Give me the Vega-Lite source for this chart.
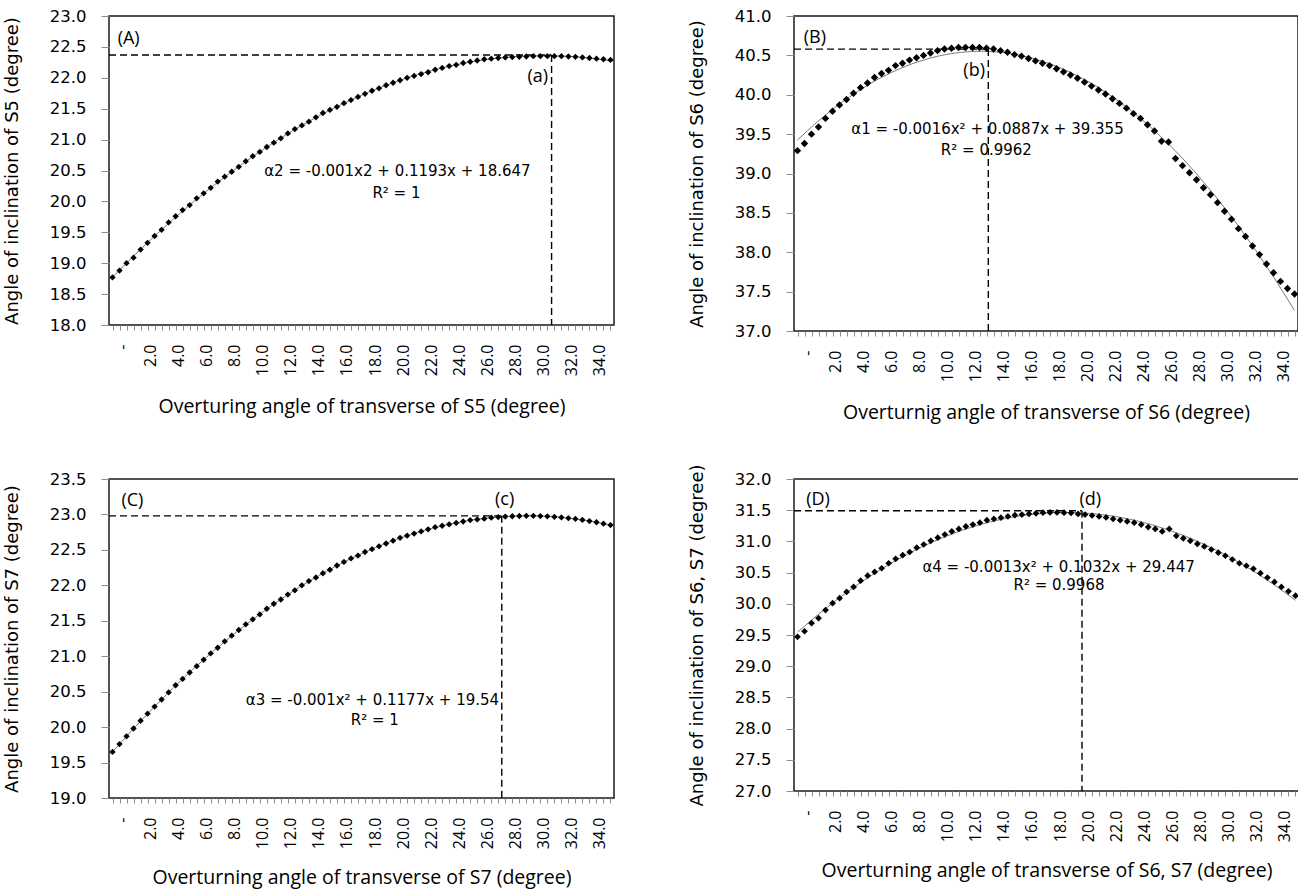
{
  "$schema": "https://vega.github.io/schema/vega-lite/v6.json",
  "background": "white",
  "padding": {"left": 2, "top": 7, "right": 0, "bottom": 8},
  "spacing": 40,
  "datasets": {
    "A": [
      {"x":0,"y":18.77},{"x":0.5,"y":18.88},{"x":1,"y":19.00},{"x":1.5,"y":19.09},{"x":2,"y":19.22},{"x":2.5,"y":19.33},{"x":3,"y":19.44},{"x":3.5,"y":19.54},{"x":4,"y":19.66},{"x":4.5,"y":19.76},{"x":5,"y":19.86},{"x":5.5,"y":19.94},{"x":6,"y":20.05},{"x":6.5,"y":20.13},{"x":7,"y":20.22},{"x":7.5,"y":20.32},{"x":8,"y":20.40},{"x":8.5,"y":20.48},{"x":9,"y":20.56},{"x":9.5,"y":20.65},{"x":10,"y":20.73},{"x":10.5,"y":20.80},{"x":11,"y":20.88},{"x":11.5,"y":20.95},{"x":12,"y":21.02},{"x":12.5,"y":21.10},{"x":13,"y":21.17},{"x":13.5,"y":21.23},{"x":14,"y":21.29},{"x":14.5,"y":21.36},{"x":15,"y":21.43},{"x":15.5,"y":21.48},{"x":16,"y":21.53},{"x":16.5,"y":21.59},{"x":17,"y":21.64},{"x":17.5,"y":21.69},{"x":18,"y":21.74},{"x":18.5,"y":21.79},{"x":19,"y":21.83},{"x":19.5,"y":21.88},{"x":20,"y":21.92},{"x":20.5,"y":21.96},{"x":21,"y":22.00},{"x":21.5,"y":22.03},{"x":22,"y":22.06},{"x":22.5,"y":22.09},{"x":23,"y":22.13},{"x":23.5,"y":22.16},{"x":24,"y":22.19},{"x":24.5,"y":22.21},{"x":25,"y":22.24},{"x":25.5,"y":22.26},{"x":26,"y":22.28},{"x":26.5,"y":22.30},{"x":27,"y":22.31},{"x":27.5,"y":22.32},{"x":28,"y":22.33},{"x":28.5,"y":22.335},{"x":29,"y":22.34},{"x":29.5,"y":22.345},{"x":30,"y":22.35},{"x":30.5,"y":22.35},{"x":31,"y":22.35},{"x":31.5,"y":22.35},{"x":32,"y":22.35},{"x":32.5,"y":22.345},{"x":33,"y":22.34},{"x":33.5,"y":22.33},{"x":34,"y":22.32},{"x":34.5,"y":22.31},{"x":35,"y":22.30},{"x":35.5,"y":22.29}
    ],
    "B": [
      {"x":0,"y":39.29},{"x":0.5,"y":39.38},{"x":1,"y":39.50},{"x":1.5,"y":39.59},{"x":2,"y":39.70},{"x":2.5,"y":39.79},{"x":3,"y":39.87},{"x":3.5,"y":39.94},{"x":4,"y":40.02},{"x":4.5,"y":40.09},{"x":5,"y":40.15},{"x":5.5,"y":40.22},{"x":6,"y":40.27},{"x":6.5,"y":40.31},{"x":7,"y":40.37},{"x":7.5,"y":40.40},{"x":8,"y":40.44},{"x":8.5,"y":40.47},{"x":9,"y":40.50},{"x":9.5,"y":40.53},{"x":10,"y":40.56},{"x":10.5,"y":40.58},{"x":11,"y":40.59},{"x":11.5,"y":40.60},{"x":12,"y":40.60},{"x":12.5,"y":40.60},{"x":13,"y":40.60},{"x":13.5,"y":40.59},{"x":14,"y":40.58},{"x":14.5,"y":40.56},{"x":15,"y":40.54},{"x":15.5,"y":40.51},{"x":16,"y":40.49},{"x":16.5,"y":40.46},{"x":17,"y":40.43},{"x":17.5,"y":40.40},{"x":18,"y":40.37},{"x":18.5,"y":40.33},{"x":19,"y":40.29},{"x":19.5,"y":40.25},{"x":20,"y":40.21},{"x":20.5,"y":40.16},{"x":21,"y":40.11},{"x":21.5,"y":40.06},{"x":22,"y":40.01},{"x":22.5,"y":39.95},{"x":23,"y":39.89},{"x":23.5,"y":39.83},{"x":24,"y":39.76},{"x":24.5,"y":39.70},{"x":25,"y":39.62},{"x":25.5,"y":39.54},{"x":26,"y":39.41},{"x":26.5,"y":39.40},{"x":27,"y":39.19},{"x":27.5,"y":39.10},{"x":28,"y":39.01},{"x":28.5,"y":38.92},{"x":29,"y":38.82},{"x":29.5,"y":38.73},{"x":30,"y":38.63},{"x":30.5,"y":38.52},{"x":31,"y":38.42},{"x":31.5,"y":38.30},{"x":32,"y":38.20},{"x":32.5,"y":38.08},{"x":33,"y":37.97},{"x":33.5,"y":37.85},{"x":34,"y":37.74},{"x":34.5,"y":37.63},{"x":35,"y":37.54},{"x":35.5,"y":37.47}
    ],
    "C": [
      {"x":0,"y":19.65},{"x":0.5,"y":19.76},{"x":1,"y":19.87},{"x":1.5,"y":19.98},{"x":2,"y":20.09},{"x":2.5,"y":20.19},{"x":3,"y":20.29},{"x":3.5,"y":20.39},{"x":4,"y":20.49},{"x":4.5,"y":20.59},{"x":5,"y":20.68},{"x":5.5,"y":20.77},{"x":6,"y":20.86},{"x":6.5,"y":20.95},{"x":7,"y":21.04},{"x":7.5,"y":21.12},{"x":8,"y":21.21},{"x":8.5,"y":21.29},{"x":9,"y":21.37},{"x":9.5,"y":21.45},{"x":10,"y":21.52},{"x":10.5,"y":21.59},{"x":11,"y":21.67},{"x":11.5,"y":21.74},{"x":12,"y":21.80},{"x":12.5,"y":21.87},{"x":13,"y":21.93},{"x":13.5,"y":22.00},{"x":14,"y":22.06},{"x":14.5,"y":22.11},{"x":15,"y":22.17},{"x":15.5,"y":22.22},{"x":16,"y":22.28},{"x":16.5,"y":22.33},{"x":17,"y":22.38},{"x":17.5,"y":22.42},{"x":18,"y":22.47},{"x":18.5,"y":22.51},{"x":19,"y":22.55},{"x":19.5,"y":22.59},{"x":20,"y":22.63},{"x":20.5,"y":22.67},{"x":21,"y":22.70},{"x":21.5,"y":22.73},{"x":22,"y":22.76},{"x":22.5,"y":22.79},{"x":23,"y":22.82},{"x":23.5,"y":22.84},{"x":24,"y":22.86},{"x":24.5,"y":22.88},{"x":25,"y":22.90},{"x":25.5,"y":22.92},{"x":26,"y":22.93},{"x":26.5,"y":22.94},{"x":27,"y":22.955},{"x":27.5,"y":22.963},{"x":28,"y":22.97},{"x":28.5,"y":22.975},{"x":29,"y":22.978},{"x":29.5,"y":22.98},{"x":30,"y":22.98},{"x":30.5,"y":22.977},{"x":31,"y":22.973},{"x":31.5,"y":22.966},{"x":32,"y":22.958},{"x":32.5,"y":22.948},{"x":33,"y":22.937},{"x":33.5,"y":22.923},{"x":34,"y":22.907},{"x":34.5,"y":22.89},{"x":35,"y":22.87},{"x":35.5,"y":22.85}
    ],
    "D": [
      {"x":0,"y":29.47},{"x":0.5,"y":29.56},{"x":1,"y":29.69},{"x":1.5,"y":29.77},{"x":2,"y":29.90},{"x":2.5,"y":30.01},{"x":3,"y":30.09},{"x":3.5,"y":30.19},{"x":4,"y":30.27},{"x":4.5,"y":30.37},{"x":5,"y":30.45},{"x":5.5,"y":30.51},{"x":6,"y":30.57},{"x":6.5,"y":30.65},{"x":7,"y":30.72},{"x":7.5,"y":30.78},{"x":8,"y":30.83},{"x":8.5,"y":30.90},{"x":9,"y":30.95},{"x":9.5,"y":31.01},{"x":10,"y":31.06},{"x":10.5,"y":31.11},{"x":11,"y":31.16},{"x":11.5,"y":31.20},{"x":12,"y":31.24},{"x":12.5,"y":31.27},{"x":13,"y":31.30},{"x":13.5,"y":31.34},{"x":14,"y":31.36},{"x":14.5,"y":31.38},{"x":15,"y":31.40},{"x":15.5,"y":31.42},{"x":16,"y":31.43},{"x":16.5,"y":31.44},{"x":17,"y":31.45},{"x":17.5,"y":31.46},{"x":18,"y":31.465},{"x":18.5,"y":31.465},{"x":19,"y":31.46},{"x":19.5,"y":31.455},{"x":20,"y":31.44},{"x":20.5,"y":31.43},{"x":21,"y":31.415},{"x":21.5,"y":31.40},{"x":22,"y":31.385},{"x":22.5,"y":31.36},{"x":23,"y":31.34},{"x":23.5,"y":31.32},{"x":24,"y":31.30},{"x":24.5,"y":31.27},{"x":25,"y":31.23},{"x":25.5,"y":31.20},{"x":26,"y":31.16},{"x":26.5,"y":31.20},{"x":27,"y":31.09},{"x":27.5,"y":31.05},{"x":28,"y":31.01},{"x":28.5,"y":30.96},{"x":29,"y":30.92},{"x":29.5,"y":30.87},{"x":30,"y":30.82},{"x":30.5,"y":30.77},{"x":31,"y":30.71},{"x":31.5,"y":30.65},{"x":32,"y":30.61},{"x":32.5,"y":30.56},{"x":33,"y":30.49},{"x":33.5,"y":30.42},{"x":34,"y":30.35},{"x":34.5,"y":30.27},{"x":35,"y":30.20},{"x":35.5,"y":30.13}
    ],
    "hA": [{"x":-0.25,"x2":31.3,"y":22.37}],
    "vA": [{"x":31.3,"y":22.37,"y2":18}],
    "lA": [{"x":1.15,"y":22.63,"t":"(A)"},{"x":30.32,"y":22.01,"t":"(a)"}],
    "eA": [{"x":20.31,"y":20.49,"t":"α2 = -0.001x2 + 0.1193x + 18.647"},{"x":20.24,"y":20.14,"t":"R² = 1"}],
    "hB": [{"x":-0.25,"x2":13.63,"y":40.58}],
    "vB": [{"x":13.63,"y":40.58,"y2":37}],
    "lB": [{"x":1.24,"y":40.72,"t":"(B)"},{"x":12.62,"y":40.30,"t":"(b)"}],
    "eB": [{"x":13.57,"y":39.56,"t":"α1 = -0.0016x² + 0.0887x + 39.355"},{"x":13.49,"y":39.30,"t":"R² = 0.9962"}],
    "hC": [{"x":-0.25,"x2":27.75,"y":22.98}],
    "vC": [{"x":27.75,"y":22.98,"y2":19}],
    "lC": [{"x":1.42,"y":23.19,"t":"(C)"},{"x":27.95,"y":23.21,"t":"(c)"}],
    "eC": [{"x":18.53,"y":20.38,"t":"α3 = -0.001x² + 0.1177x + 19.54"},{"x":18.7,"y":20.1,"t":"R² = 1"}],
    "hD": [{"x":-0.25,"x2":20.28,"y":31.49}],
    "vD": [{"x":20.28,"y":31.49,"y2":27}],
    "lD": [{"x":1.46,"y":31.66,"t":"(D)"},{"x":20.87,"y":31.66,"t":"(d)"}],
    "eD": [{"x":18.61,"y":30.59,"t":"α4 = -0.0013x² + 0.1032x + 29.447"},{"x":18.64,"y":30.30,"t":"R² = 0.9968"}]
  },
  "config": {
    "view": {"stroke": "#1a1a1a", "strokeWidth": 1.5},
    "axis": {"grid": false, "domain": false, "tickColor": "#8c8c8c", "tickWidth": 1, "labelColor": "#000000", "titleColor": "#000000", "titleFontWeight": "normal"},
    "axisX": {"tickSize": 5, "labelAngle": 270, "labelAlign": "right", "labelBaseline": "middle", "labelPadding": 14, "labelOffset": 10, "labelFont": "Open Sans", "labelFontSize": 16, "labelOverlap": false, "labelBound": false, "labelFlush": false, "titleFont": "Open Sans", "titleFontSize": 19.5, "titlePadding": 22},
    "axisY": {"tickSize": 8, "labelPadding": 15, "labelFont": "DejaVu Sans", "labelFontSize": 16.5, "labelOverlap": false, "labelFlush": false, "titleFont": "DejaVu Sans", "titleFontSize": 18, "titleX": -96.6, "titleBaseline": "middle"}
  },
  "vconcat": [
    {
      "spacing": 57,
      "hconcat": [
        {
          "width": 505, "height": 309,
          "encoding": {
            "x": {"field": "x", "type": "quantitative", "scale": {"domain": [-0.25, 35.75], "nice": false, "zero": false}, "axis": {"values": [0,0.5,1,1.5,2,2.5,3,3.5,4,4.5,5,5.5,6,6.5,7,7.5,8,8.5,9,9.5,10,10.5,11,11.5,12,12.5,13,13.5,14,14.5,15,15.5,16,16.5,17,17.5,18,18.5,19,19.5,20,20.5,21,21.5,22,22.5,23,23.5,24,24.5,25,25.5,26,26.5,27,27.5,28,28.5,29,29.5,30,30.5,31,31.5,32,32.5,33,33.5,34,34.5,35,35.5], "labelExpr": "datum.value == 0 ? '-' : (datum.value % 2 == 0 ? format(datum.value, '.1f') : '')", "title": "Overturing angle of transverse of S5 (degree)"}},
            "y": {"field": "y", "type": "quantitative", "scale": {"domain": [18, 23], "nice": false, "zero": false}, "axis": {"values": [18,18.5,19,19.5,20,20.5,21,21.5,22,22.5,23], "format": ".1f", "title": "Angle of inclination of S5 (degree)"}}
          },
          "layer": [
            {"data": {"name": "A"}, "transform": [{"regression": "y", "on": "x", "method": "poly", "order": 2}], "mark": {"type": "line", "color": "#555555", "strokeWidth": 0.8}},
            {"data": {"name": "A"}, "mark": {"type": "point", "shape": "diamond", "filled": true, "color": "#000000", "size": 40, "opacity": 1}},
            {"data": {"name": "hA"}, "mark": {"type": "rule", "color": "#000000", "strokeWidth": 1.4, "strokeDash": [7, 4]}, "encoding": {"x2": {"field": "x2"}}},
            {"data": {"name": "vA"}, "mark": {"type": "rule", "color": "#000000", "strokeWidth": 1.4, "strokeDash": [7, 4]}, "encoding": {"y2": {"field": "y2"}}},
            {"data": {"name": "lA"}, "mark": {"type": "text", "font": "Open Sans", "fontSize": 18, "color": "#000000", "align": "center", "baseline": "middle"}, "encoding": {"text": {"field": "t"}}},
            {"data": {"name": "eA"}, "mark": {"type": "text", "font": "DejaVu Sans", "fontSize": 15, "color": "#000000", "align": "center", "baseline": "middle"}, "encoding": {"text": {"field": "t"}}}
          ]
        },
        {
          "width": 504, "height": 315,
          "encoding": {
            "x": {"field": "x", "type": "quantitative", "scale": {"domain": [-0.25, 35.75], "nice": false, "zero": false}, "axis": {"values": [0,0.5,1,1.5,2,2.5,3,3.5,4,4.5,5,5.5,6,6.5,7,7.5,8,8.5,9,9.5,10,10.5,11,11.5,12,12.5,13,13.5,14,14.5,15,15.5,16,16.5,17,17.5,18,18.5,19,19.5,20,20.5,21,21.5,22,22.5,23,23.5,24,24.5,25,25.5,26,26.5,27,27.5,28,28.5,29,29.5,30,30.5,31,31.5,32,32.5,33,33.5,34,34.5,35,35.5], "labelExpr": "datum.value == 0 ? '-' : (datum.value % 2 == 0 ? format(datum.value, '.1f') : '')", "title": "Overturnig angle of transverse of S6 (degree)"}},
            "y": {"field": "y", "type": "quantitative", "scale": {"domain": [37, 41], "nice": false, "zero": false}, "axis": {"values": [37,37.5,38,38.5,39,39.5,40,40.5,41], "format": ".1f", "title": "Angle of inclination of S6 (degree)"}}
          },
          "layer": [
            {"data": {"name": "B"}, "transform": [{"regression": "y", "on": "x", "method": "poly", "order": 2}], "mark": {"type": "line", "color": "#555555", "strokeWidth": 0.8}},
            {"data": {"name": "B"}, "mark": {"type": "point", "shape": "diamond", "filled": true, "color": "#000000", "size": 55, "opacity": 1}},
            {"data": {"name": "hB"}, "mark": {"type": "rule", "color": "#000000", "strokeWidth": 1.4, "strokeDash": [7, 4]}, "encoding": {"x2": {"field": "x2"}}},
            {"data": {"name": "vB"}, "mark": {"type": "rule", "color": "#000000", "strokeWidth": 1.4, "strokeDash": [7, 4]}, "encoding": {"y2": {"field": "y2"}}},
            {"data": {"name": "lB"}, "mark": {"type": "text", "font": "Open Sans", "fontSize": 18, "color": "#000000", "align": "center", "baseline": "middle"}, "encoding": {"text": {"field": "t"}}},
            {"data": {"name": "eB"}, "mark": {"type": "text", "font": "DejaVu Sans", "fontSize": 15, "color": "#000000", "align": "center", "baseline": "middle"}, "encoding": {"text": {"field": "t"}}}
          ]
        }
      ]
    },
    {
      "spacing": 57,
      "hconcat": [
        {
          "width": 505, "height": 319,
          "encoding": {
            "x": {"field": "x", "type": "quantitative", "scale": {"domain": [-0.25, 35.75], "nice": false, "zero": false}, "axis": {"values": [0,0.5,1,1.5,2,2.5,3,3.5,4,4.5,5,5.5,6,6.5,7,7.5,8,8.5,9,9.5,10,10.5,11,11.5,12,12.5,13,13.5,14,14.5,15,15.5,16,16.5,17,17.5,18,18.5,19,19.5,20,20.5,21,21.5,22,22.5,23,23.5,24,24.5,25,25.5,26,26.5,27,27.5,28,28.5,29,29.5,30,30.5,31,31.5,32,32.5,33,33.5,34,34.5,35,35.5], "labelExpr": "datum.value == 0 ? '-' : (datum.value % 2 == 0 ? format(datum.value, '.1f') : '')", "title": "Overturning angle of transverse of S7 (degree)", "titlePadding": 20}},
            "y": {"field": "y", "type": "quantitative", "scale": {"domain": [19, 23.5], "nice": false, "zero": false}, "axis": {"values": [19,19.5,20,20.5,21,21.5,22,22.5,23,23.5], "format": ".1f", "title": "Angle of inclination of S7 (degree)"}}
          },
          "layer": [
            {"data": {"name": "C"}, "transform": [{"regression": "y", "on": "x", "method": "poly", "order": 2}], "mark": {"type": "line", "color": "#555555", "strokeWidth": 0.8}},
            {"data": {"name": "C"}, "mark": {"type": "point", "shape": "diamond", "filled": true, "color": "#000000", "size": 40, "opacity": 1}},
            {"data": {"name": "hC"}, "mark": {"type": "rule", "color": "#000000", "strokeWidth": 1.4, "strokeDash": [7, 4]}, "encoding": {"x2": {"field": "x2"}}},
            {"data": {"name": "vC"}, "mark": {"type": "rule", "color": "#000000", "strokeWidth": 1.4, "strokeDash": [7, 4]}, "encoding": {"y2": {"field": "y2"}}},
            {"data": {"name": "lC"}, "mark": {"type": "text", "font": "Open Sans", "fontSize": 18, "color": "#000000", "align": "center", "baseline": "middle"}, "encoding": {"text": {"field": "t"}}},
            {"data": {"name": "eC"}, "mark": {"type": "text", "font": "DejaVu Sans", "fontSize": 15, "color": "#000000", "align": "center", "baseline": "middle"}, "encoding": {"text": {"field": "t"}}}
          ]
        },
        {
          "width": 505, "height": 312,
          "encoding": {
            "x": {"field": "x", "type": "quantitative", "scale": {"domain": [-0.25, 35.75], "nice": false, "zero": false}, "axis": {"values": [0,0.5,1,1.5,2,2.5,3,3.5,4,4.5,5,5.5,6,6.5,7,7.5,8,8.5,9,9.5,10,10.5,11,11.5,12,12.5,13,13.5,14,14.5,15,15.5,16,16.5,17,17.5,18,18.5,19,19.5,20,20.5,21,21.5,22,22.5,23,23.5,24,24.5,25,25.5,26,26.5,27,27.5,28,28.5,29,29.5,30,30.5,31,31.5,32,32.5,33,33.5,34,34.5,35,35.5], "labelExpr": "datum.value == 0 ? '-' : (datum.value % 2 == 0 ? format(datum.value, '.1f') : '')", "title": "Overturning angle of transverse of S6, S7 (degree)", "titlePadding": 20}},
            "y": {"field": "y", "type": "quantitative", "scale": {"domain": [27, 32], "nice": false, "zero": false}, "axis": {"values": [27,27.5,28,28.5,29,29.5,30,30.5,31,31.5,32], "format": ".1f", "title": "Angle of inclination of S6, S7 (degree)"}}
          },
          "layer": [
            {"data": {"name": "D"}, "transform": [{"regression": "y", "on": "x", "method": "poly", "order": 2}], "mark": {"type": "line", "color": "#555555", "strokeWidth": 0.8}},
            {"data": {"name": "D"}, "mark": {"type": "point", "shape": "diamond", "filled": true, "color": "#000000", "size": 45, "opacity": 1}},
            {"data": {"name": "hD"}, "mark": {"type": "rule", "color": "#000000", "strokeWidth": 1.4, "strokeDash": [7, 4]}, "encoding": {"x2": {"field": "x2"}}},
            {"data": {"name": "vD"}, "mark": {"type": "rule", "color": "#000000", "strokeWidth": 1.4, "strokeDash": [7, 4]}, "encoding": {"y2": {"field": "y2"}}},
            {"data": {"name": "lD"}, "mark": {"type": "text", "font": "Open Sans", "fontSize": 18, "color": "#000000", "align": "center", "baseline": "middle"}, "encoding": {"text": {"field": "t"}}},
            {"data": {"name": "eD"}, "mark": {"type": "text", "font": "DejaVu Sans", "fontSize": 15, "color": "#000000", "align": "center", "baseline": "middle"}, "encoding": {"text": {"field": "t"}}}
          ]
        }
      ]
    }
  ]
}
